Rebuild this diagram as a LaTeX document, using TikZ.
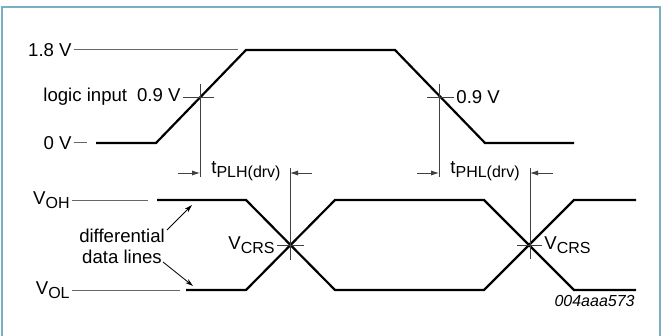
\documentclass[tikz,border=0pt]{standalone}
\usepackage{fontspec}
\setmainfont{Liberation Sans}
\usetikzlibrary{arrows.meta}
\definecolor{framec}{RGB}{122,176,196}
\newcommand{\lo}[1]{\raisebox{-0.45ex}{\fontsize{8}{9}\selectfont #1}}
\begin{document}
\begin{tikzpicture}
[x=0.5pt,y=-0.5pt,
 wave/.style={line width=1.1pt},
 lvl/.style={black!60,line width=0.5pt},
 guide/.style={black!75,line width=0.45pt},
 lbl/.style={font=\fontsize{9.3}{11}\selectfont,inner sep=1pt},
 tarrow/.style={guide,-{Latex[length=4pt,width=2.6pt]}},
 carrow/.style={line width=0.4pt,-{Stealth[length=4pt,width=2.4pt]}}]
\useasboundingbox (0,0) rectangle (662,336);
\draw[framec,line width=0.8pt] (2,336) -- (2,7) -- (660,7) -- (660,336);
% logic input
\node[lbl,anchor=east] (hi) at (74,50) {1.8 V};
\node[lbl,anchor=east] (lo) at (74,143) {0 V};
\node[lbl,anchor=east] (mid) at (183,97) {logic input\hspace{5pt}0.9 V};
\node[lbl,anchor=west] (mid2) at (454,97) {0.9 V};
\coordinate (hiend) at (238,50);
\coordinate (loend) at (87,143);
\draw[lvl] (hi) -- (hiend);
\draw[lvl] (lo) -- (loend);
\draw[wave] (96,143) -- (156,143) -- (246,50) -- (395,50) -- (485,143) -- (574,143);
\draw[guide] (mid.east) -- (214,97);
\draw[guide] (427,97) -- (mid2.west);
\draw[guide] (200,84) -- (200,177);
\draw[guide] (439,84) -- (439,177);
% delays
\node[lbl,anchor=west] (plh) at (209,171) {t\lo{PLH(drv)}};
\node[lbl,anchor=west] (phl) at (448,171) {t\lo{PHL(drv)}};
\coordinate (plhl) at (178,173);
\coordinate (plhr) at (312,173);
\coordinate (phll) at (417,173);
\coordinate (phlr) at (553,173);
\draw[tarrow] (plhl) -- (200,173);
\draw[tarrow] (plhr) -- (290,173);
\draw[tarrow] (phll) -- (439,173);
\draw[tarrow] (phlr) -- (530,173);
% data lines
\node[lbl,anchor=east] (voh) at (72,200) {V\lo{OH}};
\node[lbl,anchor=east] (vol) at (72,290) {V\lo{OL}};
\coordinate (vohend) at (148,200);
\coordinate (volend) at (180,290);
\draw[lvl] (voh) -- (vohend);
\draw[lvl] (vol) -- (volend);
\draw[wave] (157,200) -- (246,200) -- (335,290) -- (484,290) -- (574,200) -- (636,200);
\draw[wave] (186,290) -- (246,290) -- (335,200) -- (484,200) -- (574,290) -- (636,290);
\draw[guide] (290,168) -- (290,260);
\draw[guide] (530,168) -- (530,259);
\node[lbl,anchor=east] (crs1) at (277,245) {V\lo{CRS}};
\node[lbl,anchor=west] (crs2) at (542,245) {V\lo{CRS}};
\draw[guide] (crs1.east) -- (304,245);
\draw[guide] (517,245) -- (crs2.west);
\node[lbl,align=center] (dif) at (122,236) {differential};
\node[lbl,align=center] (dat) at (122,257) {data lines};
\coordinate (difto) at (192,205);
\coordinate (datto) at (193,286);
\draw[carrow] (167,230) -- (difto);
\draw[carrow] (163,262) -- (datto);
\node[lbl,anchor=east,font=\fontsize{8}{9}\selectfont\itshape] (code) at (637,301) {004aaa573};
\end{tikzpicture}
\end{document}
